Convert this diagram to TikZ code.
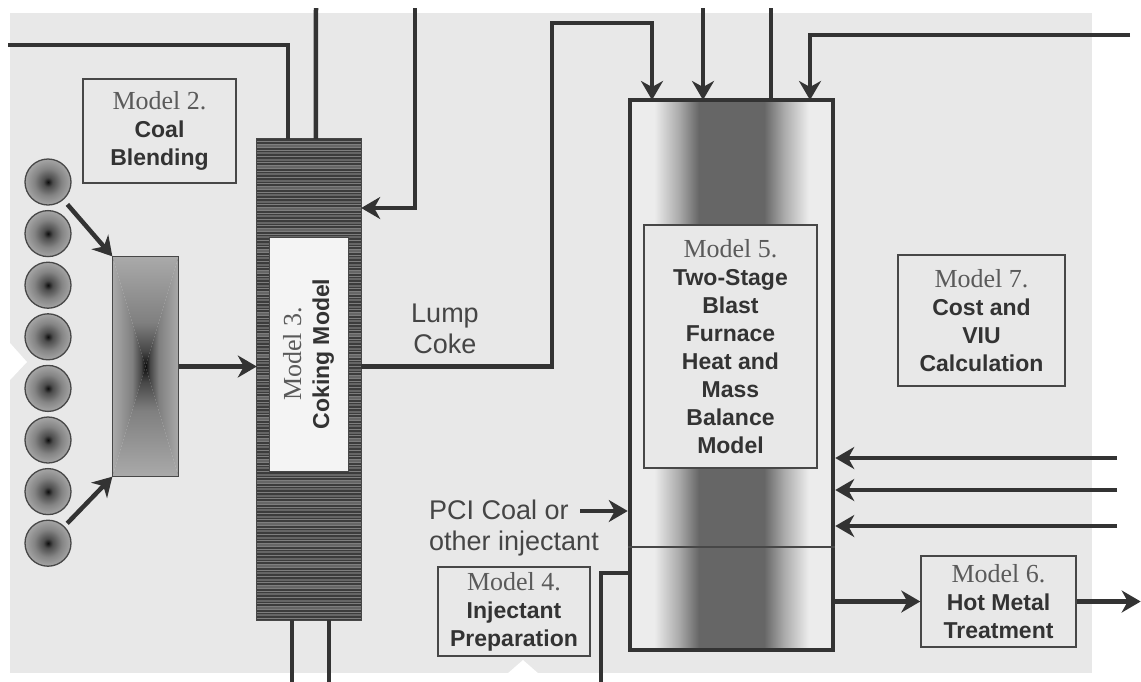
\documentclass[tikz,border=0pt]{standalone}
\usepackage{fontspec}
\setmainfont{Liberation Serif}
\newfontfamily\sansfont{Liberation Sans}
\usetikzlibrary{positioning,arrows.meta,calc}

\definecolor{linecol}{HTML}{333333}
\definecolor{bggray}{HTML}{E8E8E8}
\definecolor{headgray}{HTML}{5A5A5A}
\definecolor{textdark}{HTML}{333333}
\definecolor{plaincol}{HTML}{454545}
\definecolor{boxline}{HTML}{474747}
\definecolor{furlight}{HTML}{ECECEC}
\definecolor{furmid}{HTML}{ABABAB}
\definecolor{furdark}{HTML}{666666}
\definecolor{ovendark}{HTML}{3C3C3C}
\definecolor{ovenstripe}{HTML}{7E7E7E}
\definecolor{ovencore}{HTML}{F4F4F4}
\definecolor{mixlight}{HTML}{AAAAAA}

\pgfdeclarehorizontalshading{furnaceshade}{100bp}{color(0bp)=(furlight); color(25bp)=(furlight);
  color(31bp)=(furlight); color(37bp)=(furmid); color(42bp)=(furdark); color(58bp)=(furdark);
  color(63bp)=(furmid); color(69bp)=(furlight); color(100bp)=(furlight)}
\pgfdeclareradialshading{coalshade}{\pgfpoint{0bp}{0bp}}{color(0bp)=(black!95); color(5bp)=(black!70);
  color(15bp)=(black!48); color(25bp)=(black!35); color(50bp)=(black!35)}
\pgfdeclarehorizontalshading{mixside}{100bp}{color(0bp)=(mixlight); color(25bp)=(mixlight);
  color(55bp)=(black!50); color(68bp)=(black!72); color(75bp)=(black!95); color(100bp)=(black!95)}

\newcommand\boldtext{\sansfont\bfseries\fontsize{23}{28}\selectfont}
\newcommand\plaintext{\sansfont\fontsize{27}{31}\selectfont}
\newcommand\modelhead[1]{{\rmfamily\mdseries\fontsize{26}{30}\selectfont\color{headgray}Model #1.}}

\begin{document}
\begin{tikzpicture}[x=1pt, y=-1pt,
    pipe/.style={draw=linecol, line width=4.5pt},
    arrow/.style={pipe, -{Stealth[length=19pt, width=22pt, inset=6pt]}},
    modelbox/.style={draw=boxline, line width=1.4pt, inner sep=0pt, align=center, text=textdark, font=\boldtext},
    coal/.style={circle, draw=boxline, line width=1.3pt, minimum size=46pt, inner sep=0pt, shading=coalshade},
    flowtext/.style={font=\plaintext, text=plaincol, inner sep=0pt}
]
\useasboundingbox (0,0) rectangle (1141,681);

% Background sheet
\fill[bggray] (10,13) rectangle (1092,673);
\fill[white] (10,343) -- (27,362) -- (10,380) -- cycle;
\fill[white] (507,674) -- (523,660) -- (539,674) -- cycle;

% Coal stockpiles and blending
\foreach \i in {1,...,8}
    \node[coal] (c\i) at (48,{182+51.6*(\i-1)}) {};
\node[draw=boxline, line width=1.3pt, minimum width=65pt, minimum height=219pt, inner sep=0pt] (mixer) at (145.5,366.5) {};
\shade[shading=mixside] (mixer.north west) -- (mixer.center) -- (mixer.south west) -- cycle;
\shade[shading=mixside, shading angle=180] (mixer.north east) -- (mixer.center) -- (mixer.south east) -- cycle;
\shade[shading=mixside, shading angle=-90] (mixer.north west) -- (mixer.center) -- (mixer.north east) -- cycle;
\shade[shading=mixside, shading angle=90] (mixer.south west) -- (mixer.center) -- (mixer.south east) -- cycle;
\draw[boxline, line width=1.3pt] (mixer.north west) rectangle (mixer.south east);
\node[modelbox, minimum width=153pt, minimum height=104pt] (blend) at (159.5,131) {\modelhead{2}\\Coal\\Blending};

% Coke oven
\node[minimum width=104pt, minimum height=481pt, inner sep=0pt] (oven) at (309,379.5) {};
\begin{scope}
    \clip (oven.north west) rectangle (oven.south east);
    \fill[ovendark] (oven.north west) rectangle (oven.south east);
    \foreach \y in {141,144,...,620}
        \draw[ovenstripe, line width=0.9pt] (257,\y) -- (361,\y);
    \foreach \y in {146,153,...,620}
        \draw[black!60, line width=1.2pt] (257,\y) -- (361,\y);
\end{scope}
\draw[boxline, line width=1.2pt] (oven.north west) rectangle (oven.south east);
\node[rotate=90, fill=ovencore, draw=boxline, line width=0.8pt, minimum width=234pt, minimum height=79pt, inner sep=0pt, align=center, font=\boldtext, text=textdark] (core) at (308.5,354) {\modelhead{3}\\Coking Model};

% Blast furnace
\node[minimum width=203pt, minimum height=550pt, inner sep=0pt, shading=furnaceshade, draw=linecol, line width=4.5pt] (furnace) at (731.5,375) {};
\draw[boxline, line width=1.2pt] (furnace.west |- 0,547) -- (furnace.east |- 0,547);
\node[modelbox, fill=bggray, minimum width=173pt, minimum height=243pt] (bfmodel) at (730.5,346.5) {\modelhead{5}\\Two-Stage\\Blast\\Furnace\\Heat and\\Mass\\Balance\\Model};

% Other models
\node[modelbox, minimum width=167pt, minimum height=131pt] (cost) at (981.5,320.5) {\modelhead{7}\\Cost and\\VIU\\Calculation};
\node[modelbox, minimum width=155pt, minimum height=91pt] (hotmetal) at (998.5,601.5) {\modelhead{6}\\Hot Metal\\Treatment};
\node[modelbox, minimum width=152pt, minimum height=89pt] (inject) at (514,611.5) {\modelhead{4}\\Injectant\\Preparation};

% Flow labels
\node[flowtext, align=center] (lump) at (445,329) {Lump\\Coke};
\node[flowtext, align=left, anchor=west] (pci) at (429,528) {PCI Coal or\\other injectant};

% Free ends and ports
\coordinate (feedA) at (8,45);
\coordinate (feedB) at (316,8);
\coordinate (feedC) at (415,8);
\coordinate (ovtopA) at ($(oven.north west)+(31,0)$);
\coordinate (ovtopB) at ($(oven.north west)+(59,0)$);
\coordinate (ovbotA) at ($(oven.south west)+(35,0)$);
\coordinate (ovbotB) at ($(oven.south west)+(72,0)$);
\coordinate (lumptop) at (552,23);
\coordinate (bftopA) at (652,100);
\coordinate (bftopB) at (703,100);
\coordinate (bftopC) at (771,100);
\coordinate (bftopD) at (810,100);
\coordinate (pcitail) at (580,511);

% Arrows - coal to coke oven
\draw[arrow, shorten <=6pt] (c1) -- (mixer.north west);
\draw[arrow, shorten <=4pt] (c8) -- (mixer.south west);
\draw[arrow] (mixer.east) -- (mixer.east -| oven.west);
\draw[pipe] (feedA) -| (ovtopA);
\draw[pipe] (feedB) -- (ovtopB);
\draw[arrow] (feedC) |- (oven.east |- 0,208);
\draw[pipe] (ovbotA) -- ++(0,62);
\draw[pipe] (ovbotB) -- ++(0,62);

% Arrows - into the furnace
\draw[arrow] (oven.east |- mixer.east) -| (lumptop) -| (bftopA);
\draw[arrow] (703,8) -- (bftopB);
\draw[pipe] (bftopC) -- (771,8);
\draw[arrow] (1130,35) -| (bftopD);
\draw[arrow] (pcitail) -- (pcitail -| furnace.west);
\draw[pipe] (furnace.west |- 0,573) -| (601,682);
\foreach \y in {458,490,526}
    \draw[arrow] (1117,\y) -- (furnace.east |- 0,\y);

% Arrows - hot metal
\draw[arrow] (furnace.east |- hotmetal.west) -- (hotmetal.west);
\draw[arrow] (hotmetal.east) -- ++(64,0);

\end{tikzpicture}
\end{document}
